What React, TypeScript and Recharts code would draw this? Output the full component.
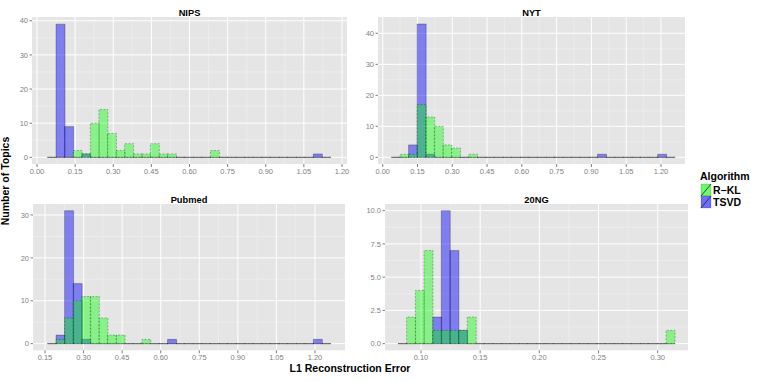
import { Bar, BarChart, CartesianGrid, XAxis, YAxis } from "recharts";

// bin centres and counts per bin
const nipsBins = [0.0579, 0.0916, 0.1254, 0.1591, 0.1929, 0.2266, 0.2604, 0.2941, 0.3279, 0.3616, 0.3954, 0.4291, 0.4629, 0.4966, 0.5304, 0.5641, 0.5979, 0.6316, 0.6654, 0.6991, 0.7329, 0.7666, 0.8004, 0.8341, 0.8679, 0.9016, 0.9354, 0.9691, 1.0029, 1.0366, 1.0704, 1.1041, 1.1379];
const nipsTsvd = [0, 39, 9, 0, 1, 0, 0, 0, 0, 0, 0, 0, 0, 0, 0, 0, 0, 0, 0, 0, 0, 0, 0, 0, 0, 0, 0, 0, 0, 0, 0, 1, 0];
const nipsRkl = [0, 0, 0, 2, 1, 10, 14, 7, 2, 4, 1, 1, 4, 1, 1, 0, 0, 0, 0, 2, 0, 0, 0, 0, 0, 0, 0, 0, 0, 0, 0, 0, 0];

const nytBins = [0.056, 0.0931, 0.1301, 0.1671, 0.2042, 0.2412, 0.2783, 0.3153, 0.3523, 0.3894, 0.4264, 0.4634, 0.5005, 0.5375, 0.5746, 0.6116, 0.6486, 0.6857, 0.7227, 0.7597, 0.7968, 0.8338, 0.8709, 0.9079, 0.9449, 0.982, 1.019, 1.056, 1.0931, 1.1301, 1.1672, 1.2042, 1.2412];
const nytTsvd = [0, 0, 4, 43, 1, 0, 0, 0, 0, 0, 0, 0, 0, 0, 0, 0, 0, 0, 0, 0, 0, 0, 0, 0, 1, 0, 0, 0, 0, 0, 0, 1, 0];
const nytRkl = [0, 1, 1, 17, 13, 10, 4, 3, 0, 1, 0, 0, 0, 0, 0, 0, 0, 0, 0, 0, 0, 0, 0, 0, 0, 0, 0, 0, 0, 0, 0, 0, 0];

const pubBins = [0.1761, 0.2095, 0.2428, 0.2762, 0.3096, 0.3429, 0.3763, 0.4096, 0.443, 0.4764, 0.5097, 0.5431, 0.5765, 0.6098, 0.6432, 0.6765, 0.7099, 0.7433, 0.7766, 0.81, 0.8434, 0.8767, 0.9101, 0.9434, 0.9768, 1.0102, 1.0435, 1.0769, 1.1103, 1.1436, 1.177, 1.2103, 1.2437];
const pubTsvd = [0, 2, 31, 14, 1, 0, 0, 0, 0, 0, 0, 0, 0, 0, 1, 0, 0, 0, 0, 0, 0, 0, 0, 0, 0, 0, 0, 0, 0, 0, 0, 1, 0];
const pubRkl = [0, 1, 6, 10, 11, 11, 6, 2, 2, 0, 0, 1, 0, 0, 0, 0, 0, 0, 0, 0, 0, 0, 0, 0, 0, 0, 0, 0, 0, 0, 0, 0, 0];

const ngBins = [0.0842, 0.0915, 0.0989, 0.1062, 0.1135, 0.1208, 0.1281, 0.1354, 0.1427, 0.15, 0.1573, 0.1646, 0.1719, 0.1792, 0.1865, 0.1938, 0.2011, 0.2084, 0.2157, 0.223, 0.2303, 0.2376, 0.2449, 0.2522, 0.2595, 0.2668, 0.2741, 0.2815, 0.2888, 0.2961, 0.3034, 0.3107];
const ngTsvd = [0, 0, 0, 0, 2, 10, 7, 1, 0, 0, 0, 0, 0, 0, 0, 0, 0, 0, 0, 0, 0, 0, 0, 0, 0, 0, 0, 0, 0, 0, 0, 0];
const ngRkl = [0, 2, 4, 7, 1, 1, 1, 1, 2, 0, 0, 0, 0, 0, 0, 0, 0, 0, 0, 0, 0, 0, 0, 0, 0, 0, 0, 0, 0, 0, 0, 1];

const wideXTicks = [0, 0.15, 0.3, 0.45, 0.6, 0.75, 0.9, 1.05, 1.2];
const pubXTicks = [0.15, 0.3, 0.45, 0.6, 0.75, 0.9, 1.05, 1.2];
const ngXTicks = [0.1, 0.15, 0.2, 0.25, 0.3];
const countTicks40 = [0, 10, 20, 30, 40];
const countTicks30 = [0, 10, 20, 30];
const ngYTicks = [0, 2.5, 5, 7.5, 10];

const seriesNames = ["R\u2212KL", "TSVD"];

const FONT = "'Liberation Sans', Arial, Helvetica, sans-serif";
const BG = "#E5E5E5";
const GREEN = "#00FF00";
const BLUE = "#0000FF";
const TICK = "#7F7F7F";

function binShape(fill: string, opacity: number, dash?: string) {
  return (p: any) => {
    const { x, y, width, height } = p;
    if (x == null || y == null || isNaN(x) || isNaN(y)) return <g />;
    const d = `M${x},${y + height}L${x},${y}L${x + width},${y}L${x + width},${y + height}Z`;
    return (
      <path
        d={d}
        fill={fill}
        fillOpacity={opacity}
        stroke="#000"
        strokeOpacity={0.45}
        strokeWidth={0.6}
        strokeDasharray={dash}
      />
    );
  };
}

const mid = (t: number[]) => t.slice(1).map((v, i) => (v + t[i]) / 2);

type PanelProps = {
  left: number;
  top: number;
  w: number;
  h: number;
  bins: number[];
  tsvd: number[];
  rkl: number[];
  xDomain: [number, number];
  yDomain: [number, number];
  xTicks: number[];
  yTicks: number[];
  xDigits: number;
  yDigits: number;
};

function Panel(props: PanelProps) {
  const { left, top, w, h, bins, tsvd, rkl, xDomain, yDomain, xTicks, yTicks, xDigits, yDigits } = props;
  const yw = 30;
  const xh = 20;
  const pad = 14;
  const data = bins.map((x, i) => ({ x, tsvd: tsvd[i], rkl: rkl[i] }));
  const tickStyle = { fill: TICK, fontSize: 7.5, fontFamily: FONT };
  return (
    <div style={{ position: "absolute", left: left - yw, top }}>
      <BarChart
        width={w + yw + pad}
        height={h + xh}
        data={data}
        margin={{ top: 0, right: pad, bottom: 0, left: 0 }}
        barCategoryGap={0}
        barGap={0}
      >
        <CartesianGrid
          xAxisId="a"
          fill={BG}
          stroke="#F2F2F2"
          strokeWidth={0.5}
          horizontalValues={mid(yTicks)}
          verticalValues={mid(xTicks)}
        />
        <CartesianGrid xAxisId="a" stroke="#FFFFFF" strokeWidth={1} horizontalValues={yTicks} verticalValues={xTicks} />
        <XAxis
          xAxisId="a"
          type="number"
          dataKey="x"
          domain={xDomain}
          ticks={xTicks}
          allowDataOverflow
          interval={0}
          height={xh}
          tickSize={3}
          tickMargin={1.5}
          axisLine={false}
          tickLine={{ stroke: TICK }}
          tick={tickStyle}
          tickFormatter={(v: number) => v.toFixed(xDigits)}
        />
        <XAxis xAxisId="b" type="number" dataKey="x" domain={xDomain} allowDataOverflow hide />
        <YAxis
          type="number"
          domain={yDomain}
          ticks={yTicks}
          allowDataOverflow
          interval={0}
          width={yw}
          tickSize={2.5}
          tickMargin={1.5}
          axisLine={false}
          tickLine={{ stroke: TICK }}
          tick={tickStyle}
          tickFormatter={(v: number) => v.toFixed(yDigits)}
        />
        <Bar xAxisId="a" dataKey="tsvd" isAnimationActive={false} shape={binShape(BLUE, 0.45)} />
        <Bar xAxisId="b" dataKey="rkl" isAnimationActive={false} shape={binShape(GREEN, 0.4, "2 1.5")} />
      </BarChart>
    </div>
  );
}

export default function App() {
  return (
    <div style={{ position: "absolute", left: 0, top: 0, width: 761, height: 381, background: "#fff", fontFamily: FONT, overflow: "hidden" }}>
      <Panel left={32} top={17} w={315} h={147} bins={nipsBins} tsvd={nipsTsvd} rkl={nipsRkl}
        xDomain={[-0.0197, 1.2197]} yDomain={[-1.95, 41.1]} xTicks={wideXTicks} yTicks={countTicks40} xDigits={2} yDigits={0} />
      <Panel left={378} top={17} w={307} h={147} bins={nytBins} tsvd={nytTsvd} rkl={nytRkl}
        xDomain={[-0.0203, 1.3036]} yDomain={[-2.15, 45.26]} xTicks={wideXTicks} yTicks={countTicks40} xDigits={2} yDigits={0} />
      <Panel left={33} top={204} w={312} h={146.3} bins={pubBins} tsvd={pubTsvd} rkl={pubRkl}
        xDomain={[0.1033, 1.3167]} yDomain={[-1.55, 32.56]} xTicks={pubXTicks} yTicks={countTicks30} xDigits={2} yDigits={0} />
      <Panel left={385} top={204} w={303} h={146.3} bins={ngBins} tsvd={ngTsvd} rkl={ngRkl}
        xDomain={[0.0696, 0.3256]} yDomain={[-0.5, 10.5]} xTicks={ngXTicks} yTicks={ngYTicks} xDigits={2} yDigits={1} />
      <svg width={761} height={381} style={{ position: "absolute", left: 0, top: 0, pointerEvents: "none" }}>
        <g fontFamily={FONT} fontWeight="bold" fill="#000">
          <text x={189.5} y={15.7} fontSize={9.3} textAnchor="middle">NIPS</text>
          <text x={531.5} y={15.7} fontSize={9.3} textAnchor="middle">NYT</text>
          <text x={189} y={202.5} fontSize={9.3} textAnchor="middle">Pubmed</text>
          <text x={536.5} y={202.5} fontSize={9.3} textAnchor="middle">20NG</text>
          <text x={350} y={372} fontSize={10.5} textAnchor="middle">L1 Reconstruction Error</text>
          <text x={9} y={181} fontSize={10.5} textAnchor="middle" transform="rotate(-90 9 181)">Number of Topics</text>
          <text x={700} y={180} fontSize={10.5}>Algorithm</text>
          {seriesNames.map((name, i) => (
            <g key={name}>
              <rect x={701} y={184 + i * 12} width={10} height={12} fill="#F2F2F2" />
              <rect x={701} y={184 + i * 12} width={10} height={12} fill={i === 0 ? GREEN : BLUE}
                fillOpacity={0.55} stroke="#000" strokeOpacity={0.3} strokeWidth={0.5} />
              <line x1={701} y1={196 + i * 12} x2={711} y2={184 + i * 12} stroke="#222" strokeWidth={0.8} />
              <text x={713} y={193.5 + i * 12} fontSize={10.5}>{name}</text>
            </g>
          ))}
        </g>
      </svg>
    </div>
  );
}
